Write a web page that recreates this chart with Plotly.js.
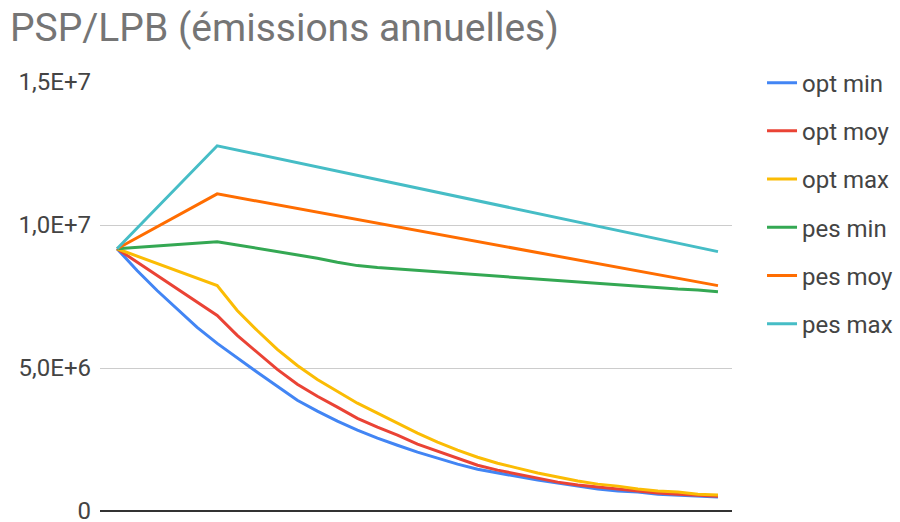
<!DOCTYPE html>
<html>
<head>
<meta charset="utf-8">
<script src="https://cdn.plot.ly/plotly-3.0.1.min.js"></script>
<style>html,body{margin:0;padding:0;background:#fff;}#chart{width:900px;height:522px;}</style>
</head>
<body>
<div id="chart"></div>
<script>
var years = [2015,2016,2017,2018,2019,2020,2021,2022,2023,2024,2025,2026,2027,2028,2029,2030,2031,2032,2033,2034,2035,2036,2037,2038,2039,2040,2041,2042,2043,2044,2045];
var seriesNames = ["opt min","opt moy","opt max","pes min","pes moy","pes max"];
var seriesColors = ["#4285F4","#EA4335","#FBBC04","#34A853","#FF6D01","#46BDC6"];
var optMin = [9.17e6,8.41e6,7.71e6,7.05e6,6.42e6,5.86e6,5.34e6,4.85e6,4.36e6,3.87e6,3.49e6,3.14e6,2.83e6,2.55e6,2.30e6,2.06e6,1.85e6,1.64e6,1.46e6,1.33e6,1.19e6,1.08e6,0.98e6,0.87e6,0.77e6,0.70e6,0.66e6,0.59e6,0.56e6,0.52e6,0.49e6];
var optMoy = [9.17e6,null,null,null,null,6.84e6,6.14e6,5.55e6,4.95e6,4.43e6,4.01e6,3.63e6,3.24e6,2.93e6,2.65e6,2.34e6,2.09e6,1.85e6,1.60e6,1.43e6,1.29e6,1.15e6,1.01e6,0.91e6,0.84e6,0.77e6,0.70e6,0.63e6,0.59e6,0.56e6,0.52e6];
var optMax = [9.17e6,null,null,null,null,7.88e6,7.01e6,6.31e6,5.65e6,5.09e6,4.60e6,4.19e6,3.77e6,3.42e6,3.07e6,2.72e6,2.41e6,2.13e6,1.88e6,1.67e6,1.50e6,1.33e6,1.19e6,1.05e6,0.94e6,0.87e6,0.77e6,0.70e6,0.66e6,0.59e6,0.56e6];
var pesMin = [9.17e6,null,null,null,null,9.41e6,9.30e6,9.19e6,9.07e6,8.95e6,8.84e6,8.70e6,8.58e6,8.51e6,8.46e6,8.41e6,8.35e6,8.30e6,8.25e6,8.20e6,8.16e6,8.11e6,8.06e6,8.00e6,7.95e6,7.92e6,7.87e6,7.81e6,7.76e6,7.73e6,7.67e6];
var pesMoy = [9.17e6,null,null,null,null,11.09e6,null,null,null,null,null,null,null,null,null,null,null,null,null,null,null,null,null,null,null,null,null,null,null,null,7.88e6];
var pesMax = [9.17e6,null,null,null,null,12.77e6,null,null,null,null,null,null,null,null,null,null,null,null,null,null,null,null,null,null,null,null,null,null,null,null,9.07e6];
var yTickVals = [0,5e6,1e7,1.5e7];
var yTickText = ["0","5,0E+6","1,0E+7","1,5E+7"];
var titleText = "PSP/LPB (émissions annuelles)";

var allSeries = [optMin,optMoy,optMax,pesMin,pesMoy,pesMax];
var traces = allSeries.map(function(vals,i){
  return {
    x: years, y: vals, type: "scatter", mode: "lines", name: seriesNames[i],
    connectgaps: true, legendgroup: "g"+i,
    line: {color: seriesColors[i], width: 3}
  };
});

var layout = {
  width: 900, height: 522,
  paper_bgcolor: "#fff", plot_bgcolor: "#fff",
  margin: {l: 100, r: 168, t: 82, b: 11, pad: 0, autoexpand: false},
  font: {family: "Roboto, Arial, sans-serif", color: "#444"},
  title: {text: titleText, font: {family: "Roboto, Arial, sans-serif", size: 39, color: "#757575"},
          x: 0.011, xanchor: "left", xref: "container", y: 1 - 27/522, yanchor: "middle", yref: "container"},
  xaxis: {range: [2014.15, 2045.7], showgrid: false, zeroline: false, showline: false, showticklabels: false, ticks: ""},
  yaxis: {range: [0, 1.5e7], tickvals: yTickVals, ticktext: yTickText, showgrid: true, gridcolor: "#cccccc", gridwidth: 1,
          zeroline: true, zerolinecolor: "#333333", zerolinewidth: 1.5, ticks: "", showline: false,
          tickfont: {size: 24, color: "#444"}, ticklabelstandoff: 8, ticklabeloverflow: "allow"},
  showlegend: true,
  legend: {x: 1.0475, xanchor: "left", y: 1.05, yanchor: "top", font: {size: 24, color: "#444"},
           tracegroupgap: 14, bgcolor: "rgba(0,0,0,0)", maxheight: 500},
  hovermode: false
};

Plotly.newPlot("chart", traces, layout, {displayModeBar: false, staticPlot: true});
</script>
</body>
</html>
